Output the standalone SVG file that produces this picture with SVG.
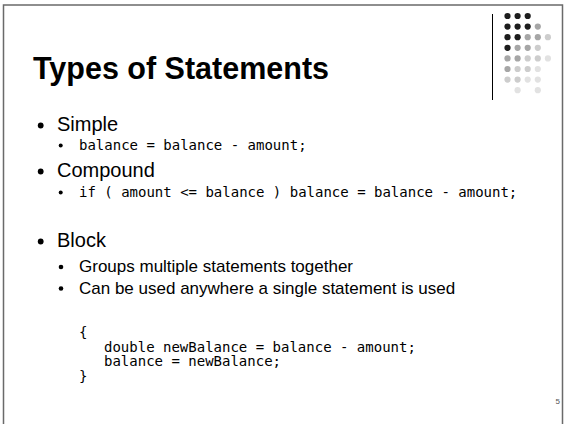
<svg xmlns="http://www.w3.org/2000/svg" width="564" height="424" viewBox="0 0 564 424">
<style>
.frame{fill:none;stroke:#6a6a6a;stroke-width:1.5}
.title{font-family:"Liberation Sans",Arial,sans-serif;font-weight:bold;font-size:30.5px;fill:#000}
.l1{font-family:"Liberation Sans",Arial,sans-serif;font-size:20px;fill:#000}
.l2{font-family:"Liberation Sans",Arial,sans-serif;font-size:17px;fill:#000}
.code{font-family:"DejaVu Sans Mono","Liberation Mono",monospace;font-size:14px;fill:#000}
.b1{fill:#000}
.k{fill:#1c1c1c}.m{fill:#a6a6a6}.l{fill:#cdcdcd}.x{fill:#e2e2e2}
.pg{font-family:"Liberation Sans",Arial,sans-serif;font-size:8px;fill:#555}
</style>
<rect width="564" height="424" fill="#fff"/>
<path class="frame" d="M3.5,430 V5 H562.5 V430"/>
<g id="logo">
<line x1="492.5" y1="14" x2="492.5" y2="100" stroke="#000" stroke-width="1"/>
<circle class="k" cx="507.5" cy="16" r="3.1"/><circle class="k" cx="517.6" cy="16" r="3.1"/><circle class="k" cx="527.7" cy="16" r="3.1"/>
<circle class="k" cx="507.5" cy="26.6" r="3.1"/><circle class="k" cx="517.6" cy="26.6" r="3.1"/><circle class="k" cx="527.7" cy="26.6" r="3.1"/><circle class="m" cx="537.8" cy="26.6" r="3.1"/>
<circle class="k" cx="507.5" cy="37.2" r="3.1"/><circle class="k" cx="517.6" cy="37.2" r="3.1"/><circle class="m" cx="527.7" cy="37.2" r="3.1"/><circle class="m" cx="537.8" cy="37.2" r="3.1"/><circle class="l" cx="547.9" cy="37.2" r="3.1"/>
<circle class="k" cx="507.5" cy="47.8" r="3.1"/><circle class="m" cx="517.6" cy="47.8" r="3.1"/><circle class="m" cx="527.7" cy="47.8" r="3.1"/><circle class="l" cx="537.8" cy="47.8" r="3.1"/>
<circle class="m" cx="507.5" cy="58.4" r="3.1"/><circle class="m" cx="517.6" cy="58.4" r="3.1"/><circle class="l" cx="527.7" cy="58.4" r="3.1"/><circle class="l" cx="537.8" cy="58.4" r="3.1"/><circle class="x" cx="547.9" cy="58.4" r="3.1"/>
<circle class="m" cx="507.5" cy="69" r="3.1"/><circle class="l" cx="517.6" cy="69" r="3.1"/><circle class="l" cx="527.7" cy="69" r="3.1"/><circle class="x" cx="537.8" cy="69" r="3.1"/>
<circle class="l" cx="507.5" cy="79.6" r="3.1"/><circle class="l" cx="517.6" cy="79.6" r="3.1"/><circle class="x" cx="527.7" cy="79.6" r="3.1"/><circle class="x" cx="537.8" cy="79.6" r="3.1"/>
<circle class="x" cx="517.6" cy="90.2" r="3.1"/><circle class="x" cx="537.8" cy="90.2" r="3.1"/>
</g>
<g id="title"><text class="title" x="33" y="79">Types of Statements</text></g>
<g id="simple">
<circle class="b1" cx="40.7" cy="125.5" r="2.9"/>
<text class="l1" x="57" y="131">Simple</text>
<circle class="b1" cx="60.7" cy="145.5" r="2"/>
<text class="code" x="79" y="149.5">balance = balance - amount;</text>
</g>
<g id="compound">
<circle class="b1" cx="40.7" cy="171.5" r="2.9"/>
<text class="l1" x="57" y="177">Compound</text>
<circle class="b1" cx="60.7" cy="192.5" r="2"/>
<text class="code" x="79" y="196.5">if ( amount &lt;= balance ) balance = balance - amount;</text>
</g>
<g id="block">
<circle class="b1" cx="40.7" cy="241.5" r="2.9"/>
<text class="l1" x="57" y="247">Block</text>
<circle class="b1" cx="61" cy="267" r="2.3"/>
<text class="l2" x="79" y="272">Groups multiple statements together</text>
<circle class="b1" cx="61" cy="288.5" r="2.3"/>
<text class="l2" x="79" y="293.5">Can be used anywhere a single statement is used</text>
<text class="code" x="79" y="337">{</text>
<text class="code" x="104" y="351.5">double newBalance = balance - amount;</text>
<text class="code" x="104" y="366">balance = newBalance;</text>
<text class="code" x="79" y="380.5">}</text>
</g>
<g id="page"><text class="pg" x="555.5" y="404">5</text></g>
</svg>
